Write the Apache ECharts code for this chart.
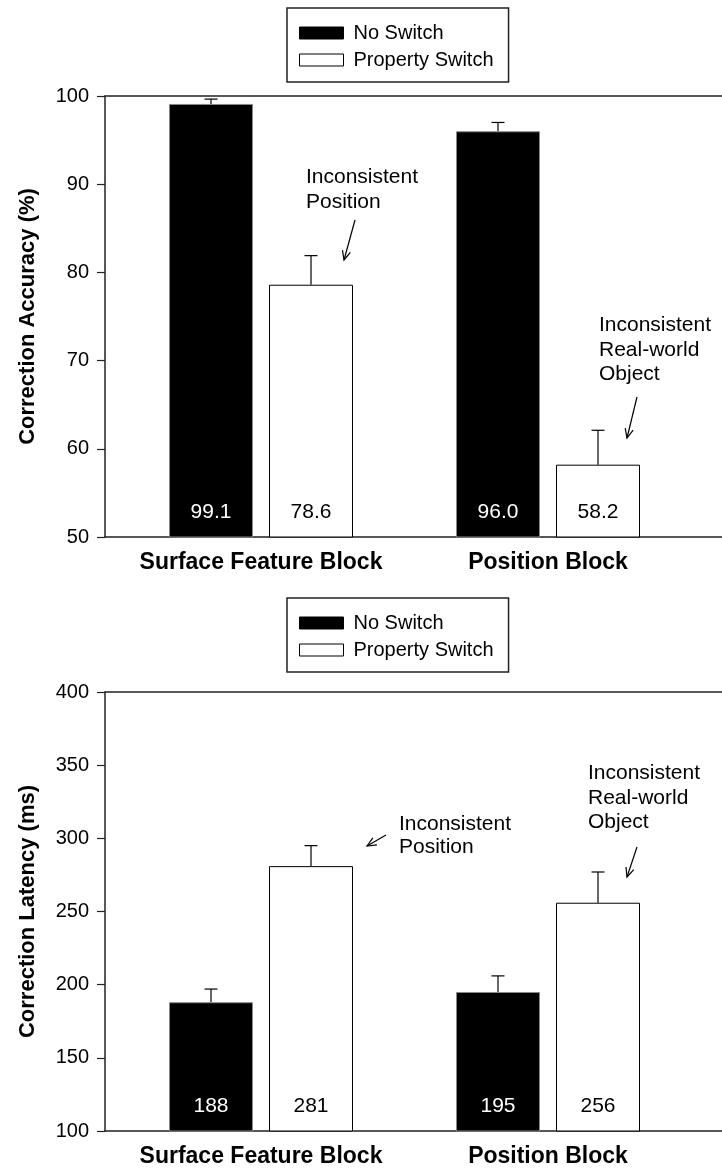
<!DOCTYPE html>
<html>
<head>
<meta charset="utf-8">
<script src="https://cdn.jsdelivr.net/npm/echarts@6/dist/echarts.min.js"></script>
<style>html,body{margin:0;padding:0;background:#fff}#c{width:722px;height:1170px}</style>
</head>
<body>
<div id="c"></div>
<script>
const categories = ['Surface Feature Block', 'Position Block'];
const seriesNames = ['No Switch', 'Property Switch'];

const accNoSwitch = [99.1, 96.0];
const accNoSwitchErr = [0.55, 1.0];
const accSwitch = [78.6, 58.2];
const accSwitchErr = [3.3, 3.9];

const latNoSwitch = [188, 195];
const latNoSwitchErr = [9, 11];
const latSwitch = [281, 256];
const latSwitchErr = [14, 21];

const accAxis = { min: 50, max: 100, interval: 10, name: 'Correction Accuracy (%)' };
const latAxis = { min: 100, max: 400, interval: 50, name: 'Correction Latency (ms)' };

const FONT = 'Liberation Sans, Arial, Helvetica, sans-serif';
const BAR_W = 84, BAR_GAP = 16;

const chart = echarts.init(document.getElementById('c'), null, { renderer: 'canvas' });

function frameX(gridIndex, pos) {
  return {
    type: 'category', gridIndex, position: pos, data: [''],
    axisLine: { show: true, onZero: false, lineStyle: { color: '#222', width: 1.5 } },
    axisTick: { show: false }, axisLabel: { show: false }, splitLine: { show: false }
  };
}
function barX(gridIndex) {
  return {
    type: 'category', gridIndex, data: categories,
    axisLine: { show: false }, axisTick: { show: false }, splitLine: { show: false },
    axisLabel: { show: true, interval: 0, hideOverlap: false, margin: 14, color: '#000', fontFamily: FONT, fontWeight: 'bold', fontSize: 23 }
  };
}
function frameY(gridIndex, ax) {
  return {
    type: 'value', gridIndex, min: ax.min, max: ax.max, interval: ax.interval,
    name: ax.name, nameLocation: 'middle', nameGap: 66, nameRotate: 90,
    nameTextStyle: { color: '#000', fontFamily: FONT, fontWeight: 'bold', fontSize: 22 },
    axisLine: { show: true, onZero: false, lineStyle: { color: '#222', width: 1.5 } },
    axisTick: { show: true, inside: false, length: 8, lineStyle: { color: '#222', width: 1.2 } },
    axisLabel: { show: true, margin: 16, color: '#000', fontFamily: FONT, fontSize: 20 },
    splitLine: { show: false }
  };
}
function barY(gridIndex, ax) {
  return { type: 'value', gridIndex, min: ax.min, max: ax.max, show: false, splitLine: { show: false } };
}

function barSeries(name, xi, yi, values, dark, digits) {
  return {
    name, type: 'bar', xAxisIndex: xi, yAxisIndex: yi, data: values,
    barWidth: BAR_W, barGap: (BAR_GAP / BAR_W * 100) + '%', z: 3,
    itemStyle: dark ? { color: '#000', borderColor: '#888', borderWidth: 1 }
                    : { color: '#fff', borderColor: '#000', borderWidth: 1 },
    label: {
      show: true, position: 'insideBottom', distance: 15,
      color: dark ? '#fff' : '#000', fontFamily: FONT, fontSize: 21,
      formatter: p => Number(p.value).toFixed(digits)
    }
  };
}

function errSeries(xi, yi, values, errs, side) {
  return {
    type: 'custom', xAxisIndex: xi, yAxisIndex: yi, z: 2, silent: true,
    data: values.map((v, i) => [i, v, errs[i]]),
    renderItem: function (params, api) {
      const off = side * (BAR_W + BAR_GAP) / 2;
      const base = api.coord([api.value(0), api.value(1)]);
      const top = api.coord([api.value(0), api.value(1) + api.value(2)]);
      const x = base[0] + off;
      const cap = 6.5;
      return {
        type: 'group',
        children: [
          { type: 'line', shape: { x1: x, y1: base[1], x2: x, y2: top[1] }, style: { stroke: '#000', lineWidth: 1.2 } },
          { type: 'line', shape: { x1: x - cap, y1: top[1], x2: x + cap, y2: top[1] }, style: { stroke: '#000', lineWidth: 1.2 } }
        ]
      };
    }
  };
}

function arrow(x1, y1, x2, y2) {
  const a = Math.atan2(y2 - y1, x2 - x1), L = 10, s = 0.42;
  return [
    { type: 'line', shape: { x1, y1, x2, y2 }, style: { stroke: '#000', lineWidth: 1.2 } },
    { type: 'polyline', shape: { points: [[x2 - L * Math.cos(a - s), y2 - L * Math.sin(a - s)], [x2, y2], [x2 - L * Math.cos(a + s), y2 - L * Math.sin(a + s)]] },
      style: { stroke: '#000', fill: null, lineWidth: 1.2 } }
  ];
}
function note(x, y, text, lh) {
  return { type: 'text', x, y, style: { text, fill: '#000', font: '21px ' + FONT, lineHeight: lh, textAlign: 'left', textVerticalAlign: 'top' } };
}

function legend(top) {
  return {
    orient: 'vertical', left: 287, top, width: 230,
    padding: [15, 15, 12, 12], itemGap: 7, itemWidth: 44, itemHeight: 12,
    borderColor: '#222', borderWidth: 1.5, backgroundColor: '#fff',
    textStyle: { color: '#000', fontFamily: FONT, fontSize: 20, padding: [0, 0, 0, 5] },
    selectedMode: false,
    data: [
      { name: seriesNames[0], icon: 'rect', itemStyle: { color: '#000', borderColor: '#000', borderWidth: 1 } },
      { name: seriesNames[1], icon: 'rect', itemStyle: { color: '#fff', borderColor: '#000', borderWidth: 1 } }
    ]
  };
}

const option = {
  backgroundColor: '#fff',
  animation: false,
  legend: [legend(8), legend(598)],
  grid: [
    { left: 105, right: 0, top: 96, height: 441 },
    { left: 117.5, right: 30.5, top: 96, height: 441 },
    { left: 105, right: 0, top: 692, height: 439 },
    { left: 117.5, right: 30.5, top: 692, height: 439 }
  ],
  xAxis: [frameX(0, 'bottom'), frameX(0, 'top'), barX(1), frameX(2, 'bottom'), frameX(2, 'top'), barX(3)],
  yAxis: [frameY(0, accAxis), barY(1, accAxis), frameY(2, latAxis), barY(3, latAxis)],
  series: [
    errSeries(2, 1, accNoSwitch, accNoSwitchErr, -1),
    errSeries(2, 1, accSwitch, accSwitchErr, 1),
    barSeries(seriesNames[0], 2, 1, accNoSwitch, true, 1),
    barSeries(seriesNames[1], 2, 1, accSwitch, false, 1),
    errSeries(5, 3, latNoSwitch, latNoSwitchErr, -1),
    errSeries(5, 3, latSwitch, latSwitchErr, 1),
    barSeries(seriesNames[0], 5, 3, latNoSwitch, true, 0),
    barSeries(seriesNames[1], 5, 3, latSwitch, false, 0)
  ],
  graphic: [
    note(306, 164.5, 'Inconsistent\nPosition', 25),
    ...arrow(355, 220, 344, 260),
    note(599, 313, 'Inconsistent\nReal-world\nObject', 24.5),
    ...arrow(637, 397, 627, 438),
    note(399, 812.5, 'Inconsistent\nPosition', 23),
    ...arrow(386, 835, 367, 846),
    note(588, 761, 'Inconsistent\nReal-world\nObject', 24.5),
    ...arrow(637, 847, 627, 877)
  ]
};
chart.setOption(option);
</script>
</body>
</html>
